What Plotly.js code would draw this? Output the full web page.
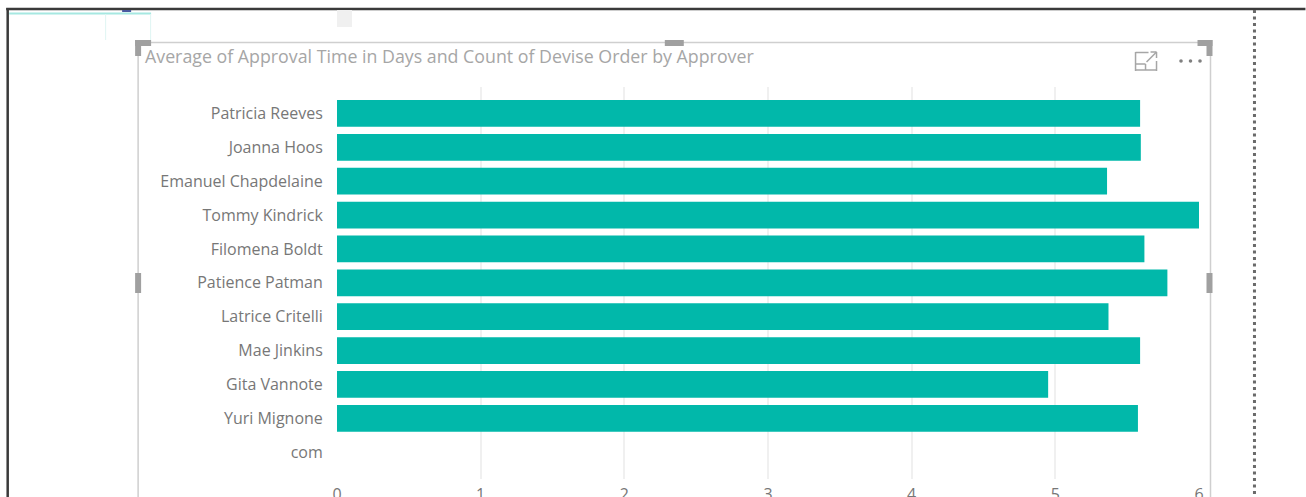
<!DOCTYPE html>
<html>
<head>
<meta charset="utf-8">
<script src="https://cdn.plot.ly/plotly-3.0.1.min.js"></script>
<style>html,body{margin:0;padding:0;background:#fff;overflow:hidden}#chart{width:1306px;height:497px}</style>
</head>
<body>
<div id="chart"></div>
<script>
const approvers = ["Patricia Reeves","Joanna Hoos","Emanuel Chapdelaine","Tommy Kindrick","Filomena Boldt","Patience Patman","Latrice Critelli","Mae Jinkins","Gita Vannote","Yuri Mignone","com"];
const avgApprovalDays = [5.59,5.595,5.36,6.0,5.62,5.78,5.37,5.59,4.95,5.575,null];
const xTicks = [0,1,2,3,4,5,6];
const titleText = "Average of Approval Time in Days and Count of Devise Order by Approver";

const W = 1306, H = 497;
const L = 337, R = 1199.5, T = 87, B = 479;
const px = x => (x - L) / (R - L);
const py = y => (B - y) / (B - T);
const rect = (x0, y0, x1, y1, fill) => ({type:"rect", xref:"paper", yref:"paper", x0:px(x0), x1:px(x1), y0:py(y0), y1:py(y1), fillcolor:fill, line:{width:0}, layer:"above"});
const line = (x0, y0, x1, y1, color, width, dash) => ({type:"line", xref:"paper", yref:"paper", x0:px(x0), x1:px(x1), y0:py(y0), y1:py(y1), line:{color, width, dash:dash||"solid"}, layer:"above"});
const dot = (cx, cy, r, fill) => ({type:"circle", xref:"paper", yref:"paper", x0:px(cx-r), x1:px(cx+r), y0:py(cy+r), y1:py(cy-r), fillcolor:fill, line:{width:0}, layer:"above"});

const handle = "#a0a0a0", frame = "#cfcfcf", icon = "#a6a6a6";
const shapes = [
  line(6, 9, 1306, 9, "#3a3a3a", 2.5),
  line(7.5, 8, 7.5, 497, "#3a3a3a", 2.5),
  line(1255, 10, 1255, 497, "#6a6a6a", 3, "3px,3.5px"),
  line(9, 13.5, 151, 13.5, "#a6e8e1", 2),
  line(105.5, 14, 105.5, 40, "#dff5f3", 1),
  line(150.5, 14, 150.5, 40, "#dff5f3", 1),
  rect(337, 10, 352, 27, "#f0f0f0"),
  rect(122, 10, 131, 12, "#4a5aa0"),
  line(138, 42.5, 1211, 42.5, frame, 1.5),
  line(138, 42, 138, 497, frame, 1.5),
  line(1211, 42, 1211, 497, frame, 1.5),
  rect(135, 40, 151, 46, handle),
  rect(135, 40, 141, 56, handle),
  rect(1198, 40, 1213, 46, handle),
  rect(1207, 40, 1213, 56, handle),
  rect(665, 40, 684, 46, handle),
  rect(135, 273, 141, 293, handle),
  rect(1207, 273, 1213, 293, handle),
  line(1136, 52.5, 1149, 52.5, icon, 1.5),
  line(1136, 70, 1157, 70, icon, 1.5),
  line(1136, 52, 1136, 71, icon, 1.5),
  line(1157, 61, 1157, 71, icon, 1.5),
  line(1136, 64, 1146, 64, icon, 1.5),
  line(1146, 64, 1146, 70, icon, 1.5),
  line(1147, 62, 1157, 52, icon, 1.5),
  line(1151, 52, 1157, 52, icon, 1.5),
  line(1157, 52, 1157, 58, icon, 1.5),
  dot(1181.5, 61, 1.8, "#808080"),
  dot(1191, 61, 1.8, "#808080"),
  dot(1200.5, 61, 1.8, "#808080")
];

Plotly.newPlot("chart", [{
  type: "bar",
  orientation: "h",
  y: approvers,
  x: avgApprovalDays,
  width: 0.79,
  marker: {color: "#01b8aa"},
  hoverinfo: "x+y"
}], {
  width: W, height: H,
  margin: {l: L, r: W - R, t: T, b: H - B, pad: 0},
  paper_bgcolor: "#ffffff",
  plot_bgcolor: "#ffffff",
  showlegend: false,
  font: {family: "'Open Sans', sans-serif", color: "#777777", size: 16},
  title: {
    text: titleText,
    xref: "container", yref: "container",
    x: 145 / W, xanchor: "left",
    y: 1 - 57 / H, yanchor: "middle",
    pad: {l: 0, r: 0, t: 0, b: 0},
    font: {family: "'Open Sans', sans-serif", size: 17.8, color: "#a6a6a6"}
  },
  xaxis: {
    range: [0, 6],
    tickmode: "array",
    tickvals: xTicks,
    ticktext: xTicks.map(String),
    showgrid: true, gridcolor: "#f0f0f0", gridwidth: 2,
    zeroline: false, showline: false,
    ticks: "outside", ticklen: 1, tickcolor: "rgba(0,0,0,0)",
    automargin: false,
    tickfont: {size: 16, color: "#777777"}
  },
  yaxis: {
    type: "category",
    categoryorder: "array",
    categoryarray: approvers,
    range: [10.79, -0.78],
    showgrid: false, zeroline: false, showline: false,
    ticks: "outside", ticklen: 10, tickcolor: "rgba(0,0,0,0)",
    automargin: false,
    tickfont: {size: 16, color: "#777777"}
  },
  shapes
}, {displayModeBar: false, responsive: false});
</script>
</body>
</html>
